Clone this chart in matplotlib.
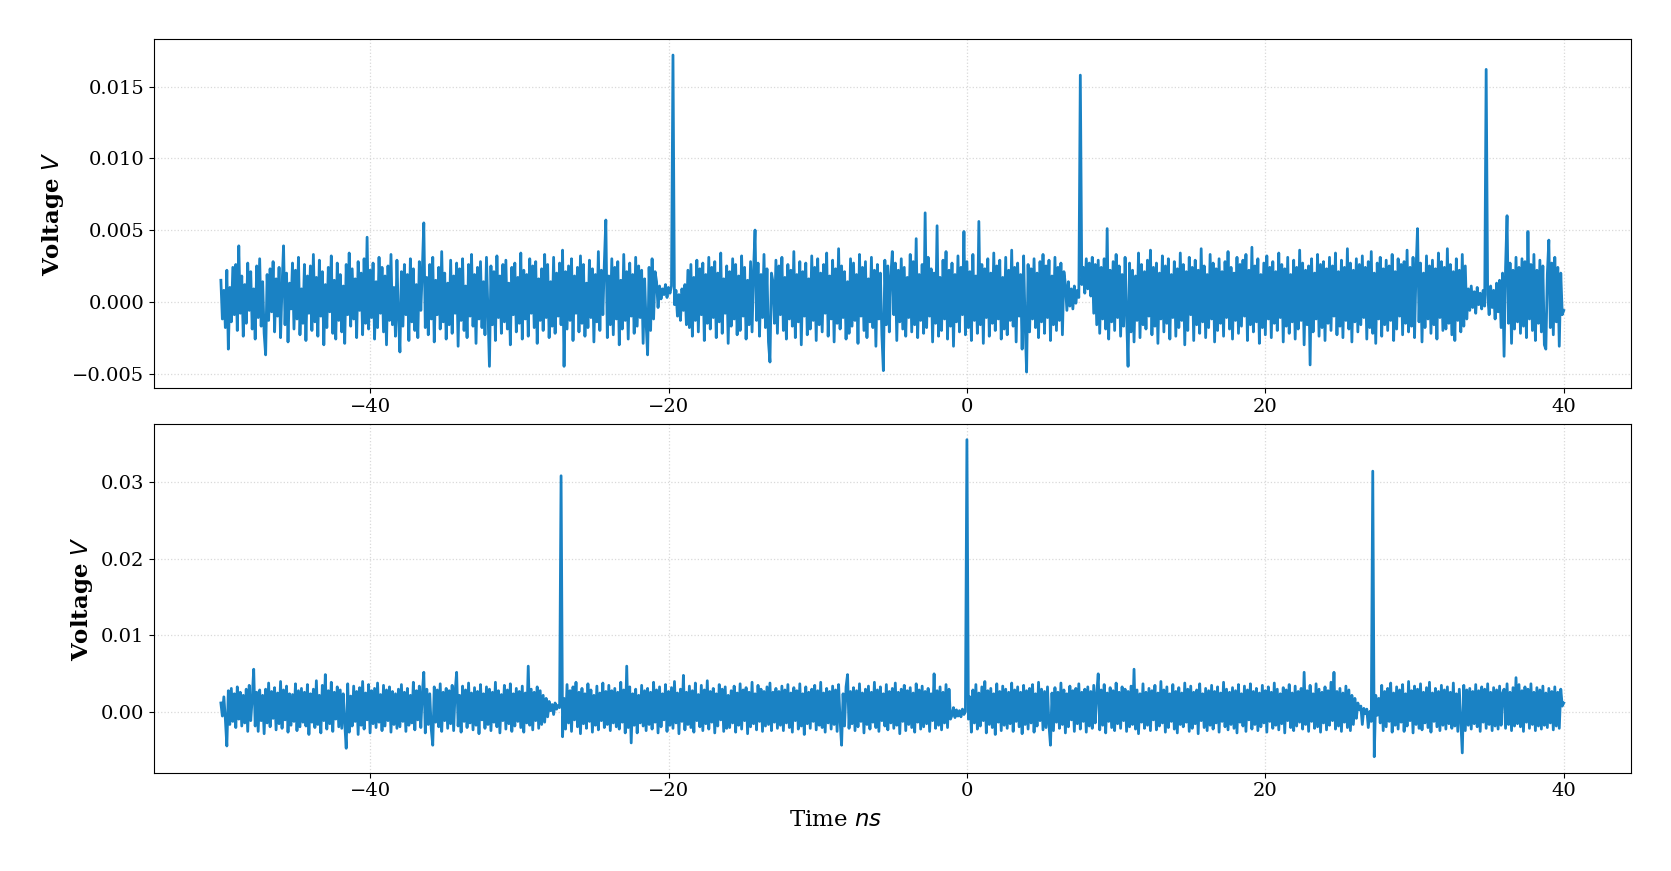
import matplotlib
matplotlib.use("Agg")
import matplotlib.pyplot as plt
import matplotlib.ticker as mticker
import numpy as np

# sampled traces, in units of 1e-4 V, one sample every 0.1 ns from -50 ns
t_start = -50.0
t_step = 0.1

top_trace = [
    15, -12, 8, -18, 22, -33, 10, -14, 24, -9,
    26, -20, 39, -8, 18, -24, 12, -15, 27, -6,
    21, -19, 9, -26, 25, -11, 30, -17, 14, -22,
    -37, 19, -13, 23, -7, 28, -21, 16, -10, 24,
    -25, 11, 39, -16, 20, -28, 13, -5, 27, -19,
    22, -12, 31, -23, 9, -15, 26, -27, 18, -8,
    25, -20, 33, -14, 17, -24, 29, -10, 21, -30,
    12, -18, 24, -7, 32, -22, 15, -26, 27, -13,
    19, -21, 11, -29, 26, -9, 34, -17, 23, -12,
    16, -25, 28, -6, 20, -23, 30, -15, 45, -19,
    22, -11, 27, -26, 14, -18, 31, -8, 24, -21,
    18, -30, 25, -13, 33, -16, 10, -24, 29, -11,
    -35, 21, -17, 26, -9, 19, -27, 30, -14, 23,
    -20, 12, -25, 28, -6, 22, 55, -18, 17, -23,
    26, -12, 31, -28, 15, -9, 24, -19, 35, -14,
    20, -26, 13, -16, 29, -22, 18, -8, 27, -31,
    23, -13, 30, -20, 11, -25, 26, -10, 33, -17,
    19, -29, 24, -12, 28, -18, 14, -23, 31, -7,
    -45, 25, -16, 21, -27, 32, -11, 18, -22, 26,
    -14, 29, -19, 13, -30, 24, -9, 27, -21, 17,
    -15, 34, -26, 22, -12, 19, -24, 30, -8, 25,
    -18, 28, -29, 16, -13, 23, -20, 33, -11, 26,
    -25, 14, -17, 31, -22, 20, -10, 27, -16, 36,
    -45, 21, -19, 25, -13, 30, -27, 18, -8, 24,
    -21, 32, -15, 26, -24, 13, -18, 29, -11, 23,
    -28, 19, -14, 35, -20, 22, -9, 27, 57, -25,
    18, -16, 30, -23, 24, -12, 28, -30, 15, -19,
    33, -13, 21, -26, 27, -10, 19, -22, 31, -17,
    25, -11, 22, -29, 16, -15, -37, 24, -20, 30,
    -12, 21, 14, -4, 11, 2, 9, 5, 12, 3,
    10, 6, 11, 172, -2, 8, -10, 5, -13, 9,
    -6, 12, -16, 22, -18, 26, -24, 17, -13, 29,
    -21, 23, -9, 27, -27, 19, -15, 31, -19, 24,
    -11, 28, -25, 20, -14, 34, -22, 16, -8, 25,
    -29, 21, -17, 30, -12, 26, -23, 18, -20, 32,
    -10, 24, -26, 15, -16, 28, -21, 22, 50, -13,
    27, -24, 19, -11, 33, -18, 23, -28, -42, 20,
    14, -15, 29, -22, 25, -9, 31, -20, 17, -26,
    26, -12, 22, -17, 35, -25, 19, -14, 28, -30,
    21, -10, 27, -23, 16, -19, 32, -13, 24, -27,
    30, -16, 20, -21, 26, -8, 34, -24, 18, -12,
    29, -28, 23, -15, 37, -19, 25, -11, 21, -26,
    14, -22, 30, -17, 27, -13, 19, -29, 33, -10,
    24, -20, 28, -25, 16, -14, 31, -18, 22, -31,
    26, -12, 20, -23, -48, 29, -16, 25, -21, 18,
    35, -9, 27, -27, 22, -14, 30, -19, 24, -24,
    17, -11, 33, -21, 28, -16, 44, -25, 19, -13,
    26, -22, 62, -18, 31, -10, 23, -28, 20, -15,
    53, -24, 17, -20, 29, -12, 35, -26, 22, -17,
    27, -31, 19, -14, 32, -21, 24, -9, 49, -23,
    28, -18, 21, -27, 33, -13, 18, -22, 56, -16,
    26, -29, 23, -11, 30, -24, 20, -15, 34, -20,
    25, -12, 29, -26, 17, -19, 31, -23, 22, -13,
    36, -17, 24, -28, 27, -10, 19, -33, 32, -15,
    -49, 26, -21, 23, -12, 30, -18, 20, -25, 28,
    -14, 33, -22, 25, -11, 29, -27, 18, -16, 31,
    -20, 24, -13, 27, -23, 21, 12, -6, 14, -3,
    9, -5, 11, -1, 8, 3, 158, 12, 24, 6,
    30, 9, 27, 4, 31, -8, 26, -16, 29, -22,
    24, -12, 30, -19, 51, -26, 22, -14, 28, -20,
    33, -11, 25, -24, 19, -17, 31, -9, -45, 27,
    -21, 22, -28, 18, -13, 34, -25, 26, -16, 21,
    -19, 29, -10, 36, -23, 24, -17, 27, -29, 20,
    -12, 32, -21, 25, -15, 30, -26, 19, -11, 28,
    -24, 23, -18, 34, -13, 26, -30, 21, -20, 31,
    -9, 24, -27, 29, -16, 22, -22, 37, -14, 25,
    -25, 19, -18, 33, -12, 27, -28, 23, -20, 30,
    -15, 21, -24, 28, -11, 35, -19, 24, -26, 20,
    -13, 31, -22, 26, -17, 29, -10, 33, -27, 22,
    -16, 38, -21, 25, -14, 30, -29, 19, -18, 27,
    -23, 32, -12, 24, -25, 28, -15, 21, -20, 34,
    -11, 26, -28, 23, -17, 31, -22, 19, -14, 29,
    -26, 24, -19, 36, -13, 27, -30, 22, -16, 25,
    -44, 30, -21, 20, -12, 33, -24, 26, -18, 28,
    -27, 23, -15, 31, -20, 25, -10, 34, -23, 21,
    -17, 29, -25, 24, -13, 37, -19, 27, -28, 22,
    -14, 30, -21, 26, -16, 32, -11, 24, -26, 28,
    -18, 35, -22, 20, -29, 27, -12, 31, -24, 23,
    -16, 29, -20, 25, -13, 33, -27, 21, -19, 30,
    -10, 26, -23, 28, -15, 36, -21, 24, -17, 31,
    -25, 22, 51, -14, 27, -28, 20, -18, 32, -12,
    25, -22, 29, -16, 23, -26, 34, -11, 28, -20,
    24, -19, 37, -15, 26, -23, 21, -27, 30, -13,
    22, -21, 33, -17, 25, -12, 9, -6, 11, -4,
    7, -8, 10, -2, 6, -5, 8, -3, 162, 5,
    -9, 11, -4, 8, -12, 13, -7, 15, -18, 20,
    -38, 24, 60, -15, 27, -29, 22, -19, 31, -14,
    24, -22, 30, -17, 28, -25, 49, -12, 26, -20,
    33, -27, 22, -15, 29, -21, 25, -30, -33, 19,
    43, -18, 27, -23, 31, -14, 24, -31, 20, -9,
    -6,
]

bottom_trace = [
    12, -5, 20, -9, -44, 28, -16, 31, -12, 24,
    -20, 33, -9, 26, -18, 22, -14, 30, -25, 35,
    -11, 18, 56, -18, 26, -25, 29, -11, 22, -28,
    30, -14, 38, -19, 27, -8, 32, -23, 25, -15,
    40, -21, 29, -10, 34, -26, 24, -17, 23, -12,
    37, -24, 28, -19, 31, -13, 26, -18, 36, -29,
    24, -13, 30, -20, 41, -16, 22, -27, 35, -11,
    49, -22, 28, -15, 39, -25, 26, -9, 33, -19,
    29, -21, 24, -14, -47, 37, -26, 21, -18, 34,
    -12, 27, -29, 32, -17, 40, -22, 25, -10, 36,
    -27, 28, -15, 31, -20, 38, -13, 23, -24, 35,
    -18, 29, -11, 33, -26, 27, -16, 24, -21, 30,
    -19, 36, -12, 26, -25, 31, -17, 22, -14, 39,
    -23, 28, -10, 34, -20, 25, 52, -27, 30, -16,
    24, -22, -43, 33, -13, 29, -19, 37, -25, 26,
    -11, 31, -21, 28, -15, 35, -24, 27, 52, -18,
    22, -26, 34, -12, 29, -20, 38, -14, 25, -23,
    32, -17, 27, -28, 36, -10, 24, -21, 33, -16,
    30, -24, 26, -13, 39, -19, 28, -27, 23, -11,
    35, -22, 29, -15, 37, -25, 24, -18, 31, -12,
    27, -20, 34, -26, 25, -14, 60, -17, 30, -23,
    26, -11, 33, -21, 28, -16, 22, -13, 18, -6,
    14, 2, 10, -3, 12, 4, 9, 6, 308, -32,
    18, -22, 36, -14, 28, -25, 33, -10, 39, -19,
    26, -28, 31, -15, 24, -21, 37, -12, 29, -26,
    22, -17, 34, -23, 25, -11, 38, -20, 27, -16,
    35, -24, 28, -14, 31, -19, 26, -22, 39, -13,
    29, -27, 60, -20, 33, -40, 24, -17, 30, -27,
    22, -14, 35, -18, 28, -24, 31, -16, 26, -22,
    39, -13, 29, -27, 33, -19, 24, -10, 36, -25,
    27, -17, 32, -21, 40, -14, 25, -28, 30, -12,
    48, -23, 26, -16, 34, -20, 28, -26, 38, -11,
    23, -19, 35, -24, 29, -15, 41, -22, 27, -13,
    31, -27, 24, -18, 36, -10, 30, -25, 33, -21,
    22, -20, 28, -14, 34, -26, 25, -17, 37, -22,
    29, -11, 32, -28, 26, -19, 39, -15, 24, -23,
    35, -12, 30, -25, 27, -18, 33, -16, 38, -24,
    26, -13, 31, -21, 27, -17, 34, -24, 29, -14,
    36, -20, 25, -26, 32, -11, 28, -22, 37, -18,
    24, -29, 33, -15, 26, -21, 30, -12, 35, -23,
    28, -17, 39, -20, 25, -26, 31, -14, 27, -22,
    34, -16, 29, -25, 36, -11, -43, 24, -18, 33,
    49, -21, 27, -15, 32, -24, 28, -19, 37, -12,
    25, -27, 30, -16, 34, -22, 26, -13, 39, -20,
    29, -25, 33, -11, 24, -18, 36, -23, 27, -14,
    31, -21, 38, -17, 26, -28, 30, -12, 35, -24,
    28, -16, 32, -20, 25, -26, 37, -13, 29, -22,
    34, -19, 27, -15, 31, -25, 24, -11, 50, -21,
    28, -17, 33, -23, 26, -14, 36, -20, 30, -9,
    -4, 6, -7, 3, -5, 2, -6, 4, -3, 1,
    355, -9, 20, -26, 29, -14, 36, -22, 25, -18,
    33, -11, 40, -27, 28, -16, 31, -20, 24, -29,
    37, -13, 27, -24, 34, -17, 30, -21, 26, -15,
    38, -25, 29, -12, 33, -19, 26, -28, 35, -16,
    28, -22, 31, -14, 36, -26, 24, -18, 39, -11,
    30, -23, 27, -20, 33, -17, -43, 25, -24, 32,
    -13, 26, -21, 38, -16, 29, -27, 24, -19, 34,
    -10, 28, -25, 31, -15, 37, -22, 26, -12, 30,
    -26, 33, -18, 27, -21, 35, -14, 24, 50, -23,
    29, -17, 36, -27, 25, -12, 32, -20, 28, -24,
    38, -15, 26, -21, 33, -11, 30, -25, 27, -19,
    34, -16, 56, -22, 29, -28, 24, -13, 37, -21,
    26, -17, 31, -24, 28, -10, 35, -23, 25, -18,
    40, -14, 29, -26, 33, -20, 24, -12, 36, -22,
    27, -27, 32, -16, 25, -19, 38, -13, 30, -25,
    34, -21, 26, -15, 29, -28, 37, -11, 24, -20,
    31, -24, 28, -17, 35, -22, 27, -14, 33, -26,
    25, -12, 39, -19, 30, -23, 26, -16, 32, -21,
    28, -27, 36, -13, 24, -18, 34, -25, 29, -10,
    37, -22, 27, -16, 31, -24, 25, -19, 35, -14,
    28, -26, 33, -12, 26, -21, 38, -17, 30, -23,
    24, -15, 32, -27, 29, -11, 36, -20, 25, -24,
    34, -18, 27, -13, 31, -22, 52, -16, 28, -25,
    35, -12, 24, -21, 37, -19, 30, -26, 26, -14,
    33, -23, 28, -17, 39, -11, 52, -22, 27, -18,
    31, -25, 25, -13, 34, -20, 29, -24, 22, -16,
    18, -8, 12, 3, 8, -16, 5, -2, 4, -20,
    1, -12, 314, -58, 22, -4, 18, -14, 35, -24,
    27, -19, 31, -12, 38, -26, 25, -17, 33, -22,
    29, -13, 36, -25, 24, -18, 40, -11, 28, -27,
    34, -16, 30, -21, 37, -23, 26, -14, 32, -20,
    39, -26, 25, -12, 31, -19, 27, -24, 35, -17,
    29, -22, 33, -15, 26, -21, 38, -18, 24, -25,
    30, -13, -53, 35, -24, 29, -17, 31, -22, 27,
    -15, 36, -19, 28, -25, 33, -13, 30, -21, 37,
    -16, 26, -24, 32, -18, 29, -22, 34, -17, 25,
    30, -21, 37, -16, 26, -24, 32, -18, 45, -15,
    36, -19, 28, -25, 33, -13, 30, -21, 37, -16,
    26, -24, 32, -18, 29, -22, 34, -17, 25, -20,
    31, -14, 27, -23, 33, -18, 26, -21, 30, 8,
    12,
]

xticks = [-40, -20, 0, 20, 40]

plt.rcParams["font.family"] = "DejaVu Serif"
plt.rcParams["mathtext.fontset"] = "dejavusans"

line_color = "#1a82c4"


def trace_axes(ax, values):
    v = np.array(values) * 1e-4
    t = t_start + t_step * np.arange(len(v))
    ax.plot(t, v, color=line_color, lw=2.0)
    ax.set_xticks(xticks)
    ax.grid(True, linestyle=":", color="0.85", lw=0.9)
    ax.tick_params(labelsize=14)
    ax.set_ylabel("Voltage $V$", fontsize=16.5, fontweight="bold")


fig, (ax1, ax2) = plt.subplots(2, 1, figsize=(16.71, 8.71), dpi=100)
fig.subplots_adjust(left=0.092, right=0.976, top=0.955, bottom=0.113, hspace=0.103)

trace_axes(ax1, top_trace)
ax1.set_yticks([-0.005, 0.0, 0.005, 0.010, 0.015])
ax1.yaxis.set_major_formatter(mticker.FuncFormatter(lambda y, _: f"{y:.3f}".replace("-", "\u2212")))

trace_axes(ax2, bottom_trace)
ax2.set_yticks([0.0, 0.01, 0.02, 0.03])
ax2.yaxis.set_major_formatter(mticker.FuncFormatter(lambda y, _: f"{y:.2f}"))

# the x label sits centred on the figure, not on the axes
fig.text(0.5, 0.059, "Time $ns$", fontsize=16.5, ha="center", va="center")

fig.savefig("out.png", dpi=100)
